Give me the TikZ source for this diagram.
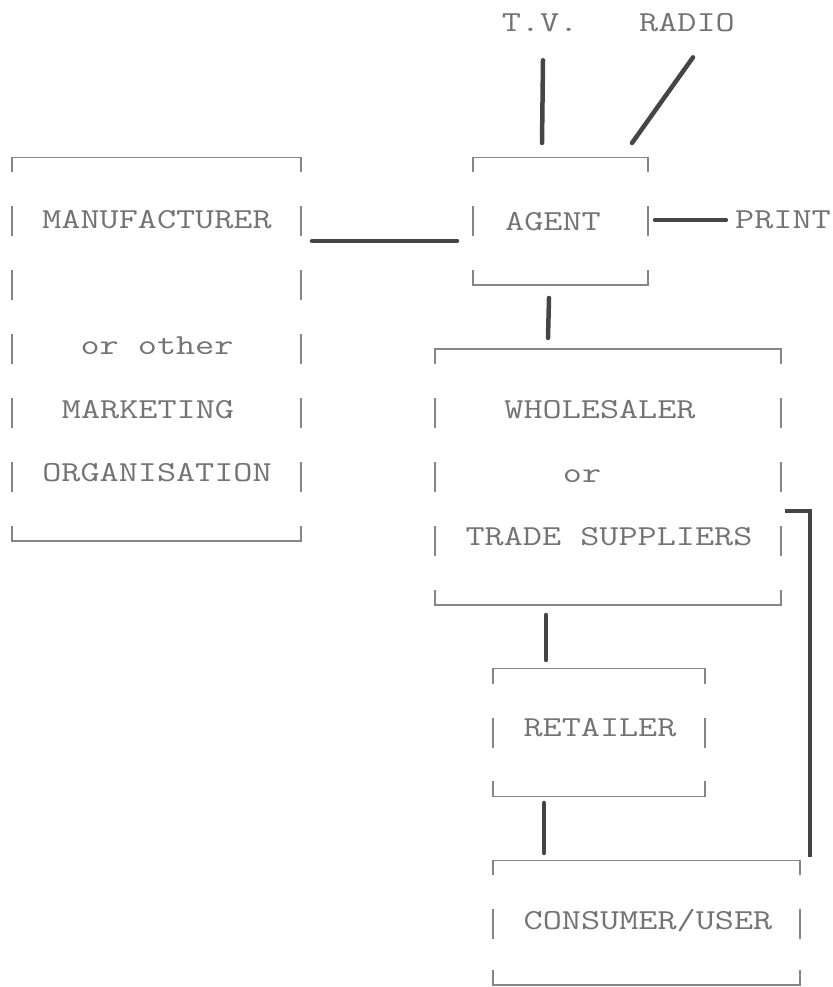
\documentclass[tikz,border=0pt]{standalone}
\usepackage{graphicx}
\usetikzlibrary{calc}

\definecolor{typeink}{gray}{0.45}
\definecolor{frameink}{gray}{0.52}
\definecolor{linkink}{gray}{0.27}

% typewriter text, widened to a 10-pitch look
\newcommand\tw[1]{\scalebox{1.28}[1]{#1}}

% typed box outline: corner brackets top and bottom, a bar on each side per text row
% #1 = box node, #2 = list of row numbers counted from the top edge
\newcommand\typeframe[2]{%
  \draw[frame] ([yshift=-15]#1.north west) -- (#1.north west) -- (#1.north east) -- ([yshift=-15]#1.north east);
  \draw[frame] ([yshift=15]#1.south west) -- (#1.south west) -- (#1.south east) -- ([yshift=15]#1.south east);
  \foreach \k in {#2}{%
    \draw[frame] ([yshift={-63.9*\k+15}]#1.north west) -- ++(0,-30);
    \draw[frame] ([yshift={-63.9*\k+15}]#1.north east) -- ++(0,-30);
  }}

\begin{document}
\begin{tikzpicture}[x=1pt,y=1pt,
  area/.style={draw=none, rectangle, inner sep=0pt, outer sep=0pt},
  typed/.style={anchor=base, inner sep=0pt, outer sep=0pt, text=typeink,
                font=\ttfamily\fontsize{29}{34}\selectfont},
  frame/.style={draw=frameink, line width=1.6pt},
  link/.style={draw=linkink, line width=4.5pt, line cap=round}]

\useasboundingbox (0,0) rectangle (832,987);

% box areas
\node[area, minimum width=289pt, minimum height=383.4pt] (manuf)    at (156.5,637.8) {};
\node[area, minimum width=175pt, minimum height=127.8pt] (agent)    at (560.5,765.6) {};
\node[area, minimum width=346pt, minimum height=255.6pt] (whole)    at (608,510)     {};
\node[area, minimum width=212pt, minimum height=127.8pt] (retail)   at (599,254.4)   {};
\node[area, minimum width=307pt, minimum height=124.6pt] (consumer) at (646.5,64.3)  {};

\typeframe{manuf}{1,2,3,4,5}
\typeframe{agent}{1}
\typeframe{whole}{1,2,3}
\typeframe{retail}{1}
\typeframe{consumer}{1}

% texts
\node[typed] (tv)    at (540,955) {\tw{T.V.}};
\node[typed] (radio) at (687,955) {\tw{RADIO}};
\node[typed] (print) at (783,758) {\tw{PRINT}};

\node[typed] at (157,758) {\tw{MANUFACTURER}};
\node[typed] at (157,632) {\tw{or other}};
\node[typed] at (148,568) {\tw{MARKETING}};
\node[typed] at (157,505) {\tw{ORGANISATION}};

\node[typed] at (553,756) {\tw{AGENT}};

\node[typed] at (600,568) {\tw{WHOLESALER}};
\node[typed] at (582,504) {\tw{or}};
\node[typed] at (609,441) {\tw{TRADE SUPPLIERS}};

\node[typed] at (600,250) {\tw{RETAILER}};
\node[typed] at (648,57)  {\tw{CONSUMER/USER}};

% connectors
\draw[link] ([shift={(3,-28)}]tv.south) -- ([shift={(69,14.5)}]agent.north west);
\draw[link] ([shift={(6,-25)}]radio.south) -- ([shift={(-16,14.5)}]agent.north east);
\draw[link] ([shift={(7,-62.5)}]agent.north east) -- ([shift={(-9.3,9)}]print.base west);
\draw[link] ([shift={(11,-83.5)}]manuf.north east) -- ([shift={(-16,-83.5)}]agent.north west);
\draw[link] ([shift={(-11.5,-12.7)}]agent.south) -- ([shift={(-60,11.2)}]whole.north);
\draw[link] ([shift={(-62,-10.2)}]whole.south) -- ([shift={(-53,8.7)}]retail.north);
\draw[link] ([shift={(-55,-6.5)}]retail.south) -- ([shift={(-102.5,7.4)}]consumer.north);
\draw[link, line cap=butt] ([shift={(4,-34)}]whole.east) -| ([shift={(10,3.4)}]consumer.north east);

\end{tikzpicture}
\end{document}
